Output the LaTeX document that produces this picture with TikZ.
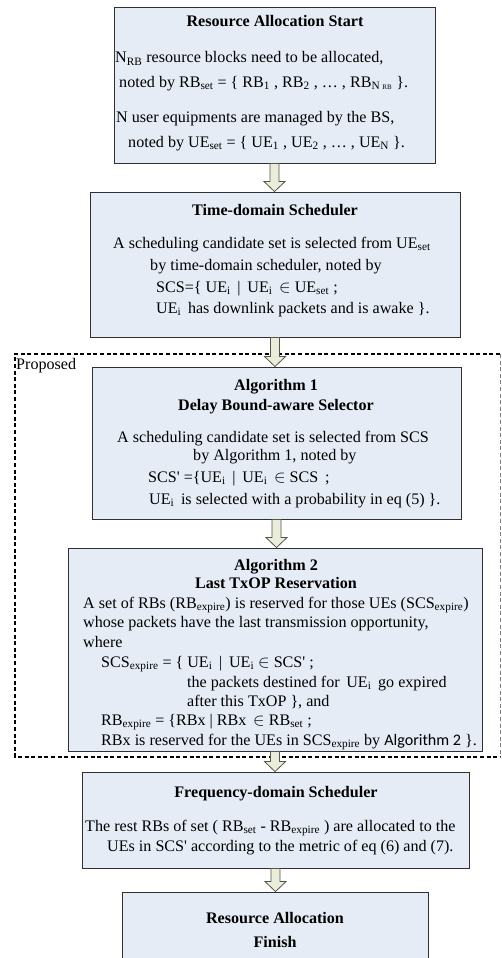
\documentclass[tikz,border=0pt]{standalone}
\usepackage{fontspec}
\setmainfont{Liberation Serif}
\newfontfamily\calibri{Carlito}
\usetikzlibrary{calc,positioning}

\definecolor{boxfill}{HTML}{E6ECF6}
\definecolor{boxline}{HTML}{303030}
\definecolor{arrfill}{HTML}{EAEDDA}
\definecolor{arrline}{HTML}{55554A}

\newcommand{\sub}[1]{\textsubscript{#1}}
\newcommand{\pr}{\textquotesingle}
\newcommand{\fatarrow}[2]{%
  \draw[fatarr] let \p1=(#1.south), \p2=(#2.north) in
    ($(\x1,\y1)+(-4.5pt,0)$) -- ($(\x1,\y2)+(-4.5pt,10pt)$) -- ($(\x1,\y2)+(-10.5pt,10pt)$)
    -- (\x1,\y2) -- ($(\x1,\y2)+(10.5pt,10pt)$) -- ($(\x1,\y2)+(4.5pt,10pt)$)
    -- ($(\x1,\y1)+(4.5pt,0)$) -- cycle;}

\begin{document}
\begin{tikzpicture}[x=1pt,y=-1pt,
    every node/.style={font=\fontsize{16.1}{19}\selectfont},
    box/.style={draw=boxline,fill=boxfill,line width=0.9pt,inner sep=0pt},
    fatarr/.style={draw=arrline,fill=arrfill,line width=0.8pt,line join=miter},
    txt/.style={anchor=base west,inner sep=0pt},
    ctxt/.style={anchor=base,inner sep=0pt},
    ttl/.style={anchor=base,inner sep=0pt,font=\fontsize{16.1}{19}\selectfont\bfseries}]
  \useasboundingbox (0,0) rectangle (501,958);

  % proposed frame
  \draw[line width=1.6pt,dash pattern=on 4pt off 2.6pt] (500,354) -- (15,354) -- (15,757) -- (500,757);
  \draw[gray,line width=0.7pt,dash pattern=on 4pt off 2.6pt] (500,354) -- (500,757);
  \node[txt] (prop) at (16,369) {Proposed};

  % boxes
  \node[box,minimum width=321pt,minimum height=156pt] (start) at (274.5,85) {};
  \node[box,minimum width=370pt,minimum height=145pt] (tds) at (275,264.5) {};
  \node[box,minimum width=369pt,minimum height=152pt] (alg1) at (276.5,443) {};
  \node[box,minimum width=414pt,minimum height=203pt] (alg2) at (275,649.5) {};
  \node[box,minimum width=387pt,minimum height=96pt] (fds) at (275.5,820) {};
  \node[box,minimum width=306pt,minimum height=73pt] (fin) at (275,928.5) {};

  \fatarrow{start}{tds}
  \fatarrow{tds}{alg1}
  \fatarrow{alg1}{alg2}
  \fatarrow{alg2}{fds}
  \fatarrow{fds}{fin}

  % start
  \node[ttl] (start-t) at (275,27) {Resource Allocation Start};
  \node[txt] (start-1) at (115,63) {N\sub{RB} resource blocks need to be allocated,};
  \node[txt] (start-2) at (119,87) {noted by RB\sub{set} = \{ RB\sub{1} , RB\sub{2} , … , RB\sub{N {\fontsize{7}{7}\selectfont RB}} \}.};
  \node[txt] (start-3) at (116,122) {N user equipments are managed by the BS,};
  \node[txt] (start-4) at (128,147) {noted by UE\sub{set} = \{ UE\sub{1} , UE\sub{2} , … , UE\sub{N} \}.};

  % time domain
  \node[ttl] (tds-t) at (275,215) {Time-domain Scheduler};
  \node[txt] (tds-1) at (113,248) {A scheduling candidate set is selected from UE\sub{set}};
  \node[txt] (tds-2) at (150,270) {by time-domain scheduler, noted by};
  \node[txt] (tds-3) at (156,292) {SCS=\{ UE\sub{i} \,|\, UE\sub{i} \,$\in$ UE\sub{set} ;};
  \node[txt] (tds-4) at (156,313) {UE\sub{i} \,has downlink packets and is awake \}.};

  % algorithm 1
  \node[ttl] (alg1-t) at (276,390) {Algorithm 1};
  \node[ttl] (alg1-s) at (276,410) {Delay Bound-aware Selector};
  \node[txt] (alg1-1) at (117,442) {A scheduling candidate set is selected from SCS};
  \node[txt] (alg1-2) at (193,460) {by Algorithm 1, noted by};
  \node[txt] (alg1-3) at (148,482) {SCS\pr{} =\{UE\sub{i} \,|\, UE\sub{i} \,$\in$ SCS \,;};
  \node[txt] (alg1-4) at (149,504) {UE\sub{i} \,is selected with a probability in eq (5) \}.};

  % algorithm 2
  \node[ttl] (alg2-t) at (276,570) {Algorithm 2};
  \node[ttl] (alg2-s) at (276,588) {Last TxOP Reservation};
  \node[txt] (alg2-1) at (83,608) {A set of RBs (RB\sub{expire}) is reserved for those UEs (SCS\sub{expire})};
  \node[txt] (alg2-2) at (83,627) {whose packets have the last transmission opportunity,};
  \node[txt] (alg2-3) at (83,647) {where};
  \node[txt] (alg2-4) at (101,667) {SCS\sub{expire} = \{ UE\sub{i} \,|\, UE\sub{i} $\in$ SCS\pr{} ;};
  \node[txt] (alg2-5) at (187,687) {the packets destined for \,UE\sub{i} \,go expired};
  \node[txt] (alg2-6) at (187,706) {after this TxOP \}, and};
  \node[txt] (alg2-7) at (101,725) {RB\sub{expire} = \{RBx | RBx \,$\in$ RB\sub{set} ;};
  \node[txt] (alg2-8) at (101,745) {RBx is reserved for the UEs in SCS\sub{expire} by {\calibri Algorithm 2} \}.};

  % frequency domain
  \node[ttl] (fds-t) at (276,797) {Frequency-domain Scheduler};
  \node[txt] (fds-1) at (85,831) {The rest RBs of set ( RB\sub{set} - RB\sub{expire} ) are allocated to the};
  \node[txt] (fds-2) at (107,851) {UEs in SCS\pr{} according to the metric of eq (6) and (7).};

  % finish
  \node[ttl] (fin-t) at (275,923) {Resource Allocation};
  \node[ttl] (fin-s) at (275,947) {Finish};
\end{tikzpicture}
\end{document}
